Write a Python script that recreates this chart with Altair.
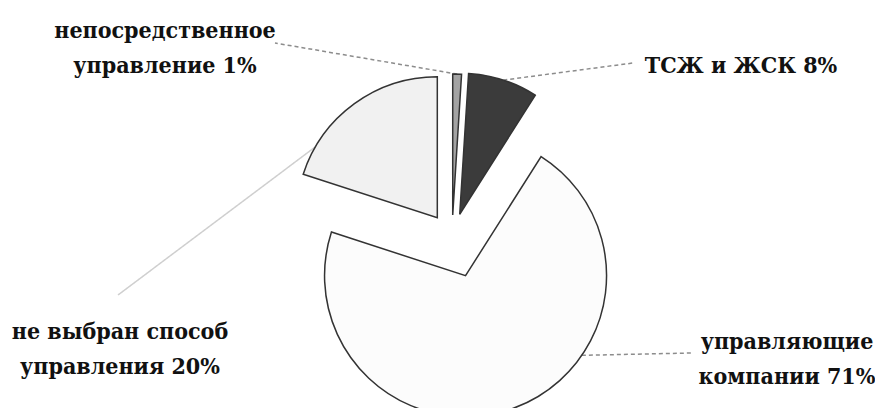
import altair as alt
import pandas as pd

# ---- data ----
categories = ["непосредственное управление", "ТСЖ и ЖСК",
              "управляющие компании", "не выбран способ управления"]
values = [1, 8, 71, 20]
label_texts = ["непосредственное\nуправление 1%", "ТСЖ и ЖСК 8%",
               "управляющие\nкомпании 71%", "не выбран способ\nуправления 20%"]

# ---- styles / layout (kept apart from the data) ----
colors = ["#a3a3a3", "#3b3b3b", "#fcfcfc", "#f1f1f1"]
explode = [23, 25, 40, 25]
anchor_frac = [0.5, 0.5, 0.36, 0.17]
label_x = [157, 733, 779, 112]
label_y = [23, 58, 334, 324]
leader_x = [267, 625, 684, 110]
leader_y = [35, 55, 345, 287]
leader_style = ["dash", "dash", "dash", "solid"]

W, H = 867, 400
CX, CY, R = 444, 230, 141

df = pd.DataFrame({
    "cat": categories,
    "value": values,
    "label": label_texts,
    "order": list(range(len(categories))),
    "E": explode,
    "frac": anchor_frac,
    "lx": label_x,
    "ly": label_y,
    "lex": leader_x,
    "ley": leader_y,
    "lstyle": leader_style,
})

xs = alt.Scale(domain=[0, W], nice=False, zero=False)
ys = alt.Scale(domain=[0, H], nice=False, zero=False, reverse=True)

base = (
    alt.Chart(df)
    .transform_window(cum="sum(value)", sort=[alt.SortField("order")], frame=[None, 0])
    .transform_calculate(start="datum.cum - datum.value", end="datum.cum")
    .transform_calculate(
        cmid="(datum.start + datum.end) / 2 / 100 * 2 * PI",
        amid="(datum.start + datum.frac * datum.value) / 100 * 2 * PI",
    )
    .transform_calculate(
        ex=f"{CX} + datum.E * sin(datum.cmid)",
        ey=f"{CY} - datum.E * cos(datum.cmid)",
    )
    .transform_calculate(
        ax=f"datum.ex + {R} * sin(datum.amid)",
        ay=f"datum.ey - {R} * cos(datum.amid)",
    )
)

rules = base.mark_rule(strokeWidth=1.5).encode(
    x=alt.X("ax:Q", scale=xs, axis=None),
    y=alt.Y("ay:Q", scale=ys, axis=None),
    x2="lex:Q",
    y2="ley:Q",
    color=alt.condition(alt.datum.lstyle == "solid", alt.value("#cfcfcf"), alt.value("#8c8c8c")),
    strokeDash=alt.condition(alt.datum.lstyle == "solid", alt.value([1, 0]), alt.value([4, 3])),
)

arcs = base.mark_arc(radius=R, stroke="#333333", strokeWidth=1.5).encode(
    x=alt.X("ex:Q", scale=xs, axis=None),
    y=alt.Y("ey:Q", scale=ys, axis=None),
    theta=alt.Theta("start:Q", scale=alt.Scale(domain=[0, 100]), stack=None),
    theta2="end:Q",
    color=alt.Color("cat:N", scale=alt.Scale(domain=categories, range=colors), legend=None),
)

text = base.mark_text(
    font="DejaVu Serif Condensed",
    fontSize=23, fontWeight="bold", lineBreak="\n",
    lineHeight=35, align="center", baseline="middle", color="#111111",
).encode(
    x=alt.X("lx:Q", scale=xs, axis=None),
    y=alt.Y("ly:Q", scale=ys, axis=None),
    text="label:N",
)

chart = (
    alt.layer(rules, arcs, text)
    .properties(width=W, height=H, padding=0, autosize="none", background="white")
    .configure_view(stroke=None)
)

chart.save("out.html", embed_options={"renderer": "svg", "actions": False})
